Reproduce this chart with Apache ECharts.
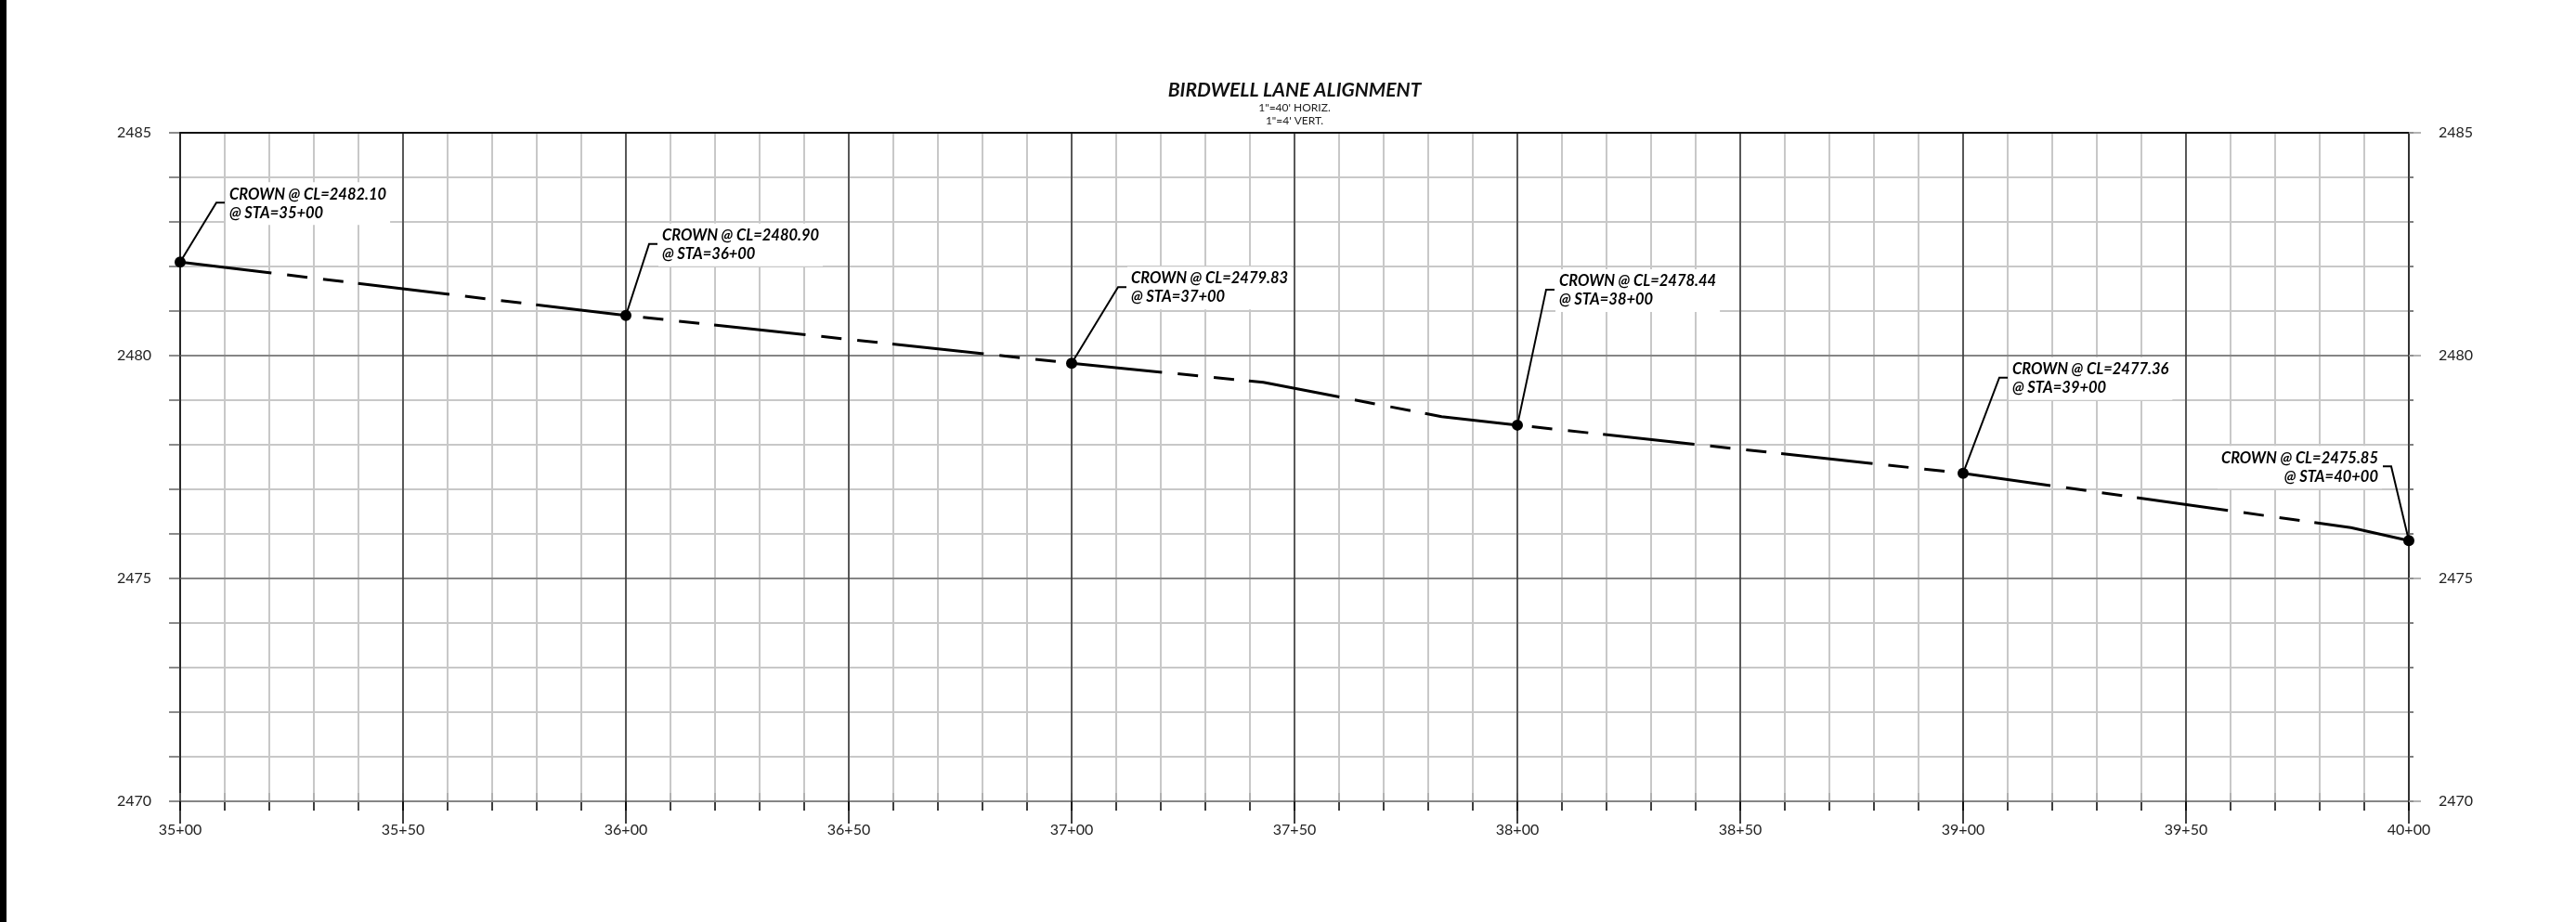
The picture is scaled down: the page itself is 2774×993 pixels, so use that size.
<!DOCTYPE html>
<html>
<head>
<meta charset="utf-8">
<script src="https://cdn.jsdelivr.net/npm/echarts@6/dist/echarts.min.js"></script>
<style>
  html, body { margin: 0; padding: 0; background: #fff; }
  #chart { width: 2774px; height: 993px; }
</style>
</head>
<body>
<div id="chart"></div>
<script>
// ---- data ----
const titleText = 'BIRDWELL LANE ALIGNMENT';
const subtitleLines = ['1"=40\' HORIZ.', '1"=4\' VERT.'];

// profile polyline (station in feet, elevation)
const profileStations = [3500, 3600, 3700, 3743, 3783, 3800, 3900, 3987, 4000];
const profileElevations = [2482.10, 2480.90, 2479.83, 2479.40, 2478.63, 2478.44, 2477.36, 2476.14, 2475.85];

// crown call-outs
const crownStations = [3500, 3600, 3700, 3800, 3900, 4000];
const crownElevations = [2482.10, 2480.90, 2479.83, 2478.44, 2477.36, 2475.85];

// axis ranges / ticks
const stationMin = 3500, stationMax = 4000;
const elevMin = 2470, elevMax = 2485;

// ---- layout (leader offsets in px, not data) ----
const crownLabelLayout = [
  { dx: 39, dy: -64, side: 'right' },
  { dx: 25, dy: -77, side: 'right' },
  { dx: 50, dy: -82, side: 'right' },
  { dx: 31, dy: -146, side: 'right' },
  { dx: 39, dy: -103, side: 'right' },
  { dx: -19, dy: -80, side: 'left' }
];

function fmtStation(v) {
  const s = Math.round(v);
  return Math.floor(s / 100) + '+' + String(s % 100).padStart(2, '0');
}
function fmtElev(v) { return String(Math.round(v)); }

const chart = echarts.init(document.getElementById('chart'), null, { renderer: 'canvas' });

const FONT = 'Lato, "Open Sans", sans-serif';
const GRID_LEFT = 194, GRID_TOP = 143, GRID_W = 2400, GRID_H = 720;

const profileData = profileStations.map((s, i) => [s, profileElevations[i]]);
const crownData = crownStations.map((s, i) => [s, crownElevations[i]]);

const option = {
  animation: false,
  backgroundColor: '#ffffff',
  grid: { left: GRID_LEFT, top: GRID_TOP, width: GRID_W, height: GRID_H, containLabel: false },
  xAxis: [
    { // minor grid + minor ticks + bottom axis line
      type: 'value', min: stationMin, max: stationMax, interval: 10, position: 'bottom', z: 0,
      axisLine: { show: true, onZero: false, lineStyle: { color: '#000', width: 2 } },
      axisTick: { show: true, length: 10, lineStyle: { color: '#000', width: 1.5 } },
      axisLabel: { show: false },
      splitLine: { show: true, lineStyle: { color: '#c8c8c8', width: 2 } }
    },
    { // major grid + labels
      type: 'value', min: stationMin, max: stationMax, interval: 50, position: 'bottom', z: 1,
      axisLine: { show: false, onZero: false },
      axisTick: { show: true, length: 24, lineStyle: { color: '#000', width: 1.5 } },
      axisLabel: { show: true, margin: 23, formatter: fmtStation, color: '#222', fontFamily: FONT, fontSize: 16 },
      splitLine: { show: true, lineStyle: { color: '#333', width: 1.5 } }
    },
    { // small inside tick marks above axis
      type: 'value', min: stationMin, max: stationMax, interval: 10, position: 'bottom', z: 0,
      axisLine: { show: false, onZero: false },
      axisTick: { show: true, inside: true, length: 9, lineStyle: { color: '#b0b0b0', width: 2 } },
      axisLabel: { show: false },
      splitLine: { show: false }
    },
    { // top border
      type: 'value', min: stationMin, max: stationMax, interval: 50, position: 'top', z: 2,
      axisLine: { show: true, onZero: false, lineStyle: { color: '#111', width: 2 } },
      axisTick: { show: false }, axisLabel: { show: false }, splitLine: { show: false }
    }
  ],
  yAxis: [
    { // left minor
      type: 'value', min: elevMin, max: elevMax, interval: 1, position: 'left', z: 0,
      axisLine: { show: true, onZero: false, lineStyle: { color: '#000', width: 2 } },
      axisTick: { show: true, length: 12, lineStyle: { color: '#666', width: 1.5 } },
      axisLabel: { show: false },
      splitLine: { show: true, lineStyle: { color: '#c8c8c8', width: 2 } }
    },
    { // left major
      type: 'value', min: elevMin, max: elevMax, interval: 5, position: 'left', z: 1,
      axisLine: { show: false, onZero: false },
      axisTick: { show: false },
      axisLabel: { show: true, margin: 31, formatter: fmtElev, color: '#222', fontFamily: FONT, fontSize: 16 },
      splitLine: { show: true, lineStyle: { color: '#858585', width: 2 } }
    },
    { // right minor
      type: 'value', min: elevMin, max: elevMax, interval: 1, position: 'right', z: 2,
      axisLine: { show: true, onZero: false, lineStyle: { color: '#333', width: 2 } },
      axisTick: { show: true, length: 5, lineStyle: { color: '#555', width: 1.5 } },
      axisLabel: { show: false }, splitLine: { show: false }
    },
    { // right major
      type: 'value', min: elevMin, max: elevMax, interval: 5, position: 'right', z: 2,
      axisLine: { show: false, onZero: false },
      axisTick: { show: true, length: 13, lineStyle: { color: '#999', width: 1.5 } },
      axisLabel: { show: true, margin: 32, formatter: fmtElev, color: '#222', fontFamily: FONT, fontSize: 16 },
      splitLine: { show: false }
    }
  ],
  graphic: [
    { type: 'rect', left: 0, top: 0, shape: { x: 0, y: 0, width: 7, height: 993 }, style: { fill: '#000' }, z: 100 },
    { type: 'text', x: GRID_LEFT + GRID_W / 2, y: 97, z: 100,
      style: { text: titleText, font: 'italic bold 21px ' + FONT, fill: '#111', align: 'center', verticalAlign: 'middle' } },
    { type: 'text', x: GRID_LEFT + GRID_W / 2, y: 116, z: 100,
      style: { text: subtitleLines[0], font: '12px ' + FONT, fill: '#222', align: 'center', verticalAlign: 'middle' } },
    { type: 'text', x: GRID_LEFT + GRID_W / 2, y: 130, z: 100,
      style: { text: subtitleLines[1], font: '12px ' + FONT, fill: '#222', align: 'center', verticalAlign: 'middle' } }
  ],
  series: [
    {
      type: 'line', name: 'Profile', xAxisIndex: 0, yAxisIndex: 0,
      data: profileData, showSymbol: false, symbol: 'none', z: 5,
      lineStyle: { color: '#000', width: 3, type: [99, 17, 22, 17, 22, 16], dashOffset: 0, cap: 'butt' }
    },
    {
      type: 'custom', name: 'Crown', xAxisIndex: 0, yAxisIndex: 0, z: 10, clip: false,
      data: crownData,
      encode: { x: 0, y: 1 },
      renderItem: function (params, api) {
        const i = params.dataIndex;
        const sta = api.value(0), elev = api.value(1);
        const p = api.coord([sta, elev]);
        const L = crownLabelLayout[i];
        const dir = L.side === 'left' ? -1 : 1;
        const lx = p[0] + L.dx, ly = p[1] + L.dy;
        const txt = 'CROWN @ CL=' + elev.toFixed(2) + '\n@ STA=' + fmtStation(sta);
        const pad = [3, 4];
        return {
          type: 'group',
          children: [
            { type: 'polyline', shape: { points: [[p[0], p[1]], [lx, ly], [lx + dir * 9, ly]] },
              style: { stroke: '#000', lineWidth: 2, fill: null } },
            { type: 'circle', shape: { cx: p[0], cy: p[1], r: 6 }, style: { fill: '#000' } },
            { type: 'text', x: lx + dir * 14 - dir * pad[1], y: ly - 19 - pad[0],
              style: { text: txt, font: 'italic bold 16.5px ' + FONT, fill: '#000',
                       align: dir > 0 ? 'left' : 'right', verticalAlign: 'top', lineHeight: 20,
                       backgroundColor: '#fff', padding: pad } }
          ]
        };
      }
    }
  ]
};

chart.setOption(option);
</script>
</body>
</html>
